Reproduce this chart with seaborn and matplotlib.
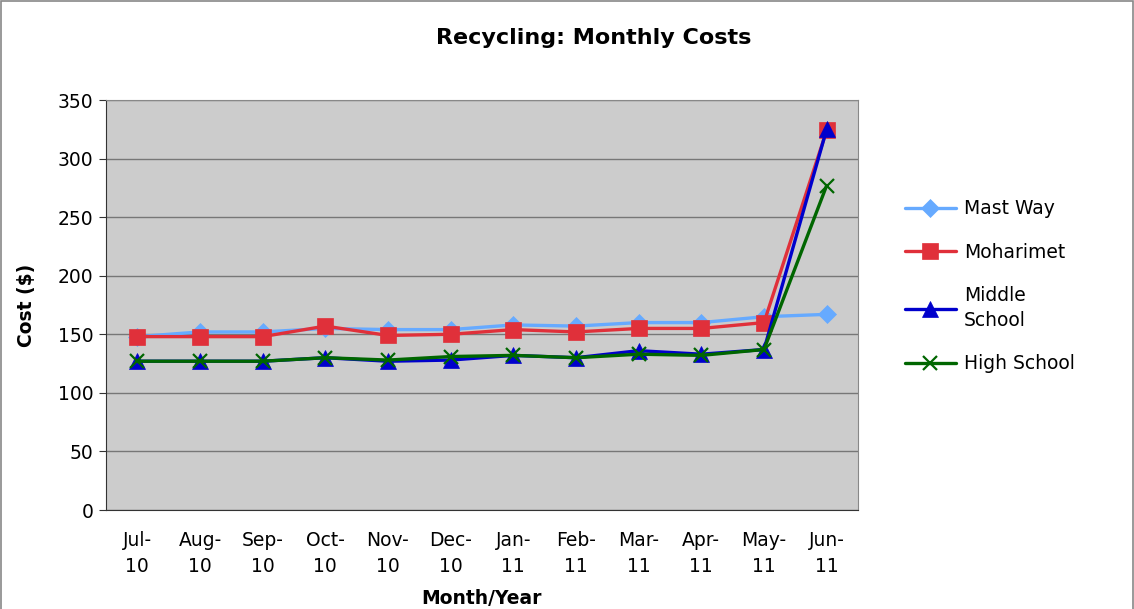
import numpy as np
import pandas as pd
import matplotlib
matplotlib.use('Agg')
import matplotlib.pyplot as plt
import seaborn as sns
from matplotlib.patches import Rectangle

# Monatswerte
months = ['Jul-\n10', 'Aug-\n10', 'Sep-\n10', 'Oct-\n10', 'Nov-\n10', 'Dec-\n10',
          'Jan-\n11', 'Feb-\n11', 'Mar-\n11', 'Apr-\n11', 'May-\n11', 'Jun-\n11']
mast_way = [148, 152, 152, 155, 154, 154, 158, 157, 160, 160, 165, 167]
moharimet = [148, 148, 148, 157, 149, 150, 154, 152, 155, 155, 160, 324]
middle_school = [127, 127, 127, 130, 127, 128, 132, 130, 136, 133, 137, 325]
high_school = [127, 127, 127, 130, 128, 131, 132, 130, 133, 132, 137, 277]

series = [
    ('Mast Way', mast_way, '#66AAFF', 'D', 9),
    ('Moharimet', moharimet, '#E0303A', 's', 11),
    ('Middle\nSchool', middle_school, '#0000CC', '^', 11),
    ('High School', high_school, '#006600', 'x', 10),
]

sns.set_style('white')
plt.rcParams['font.family'] = ['DejaVu Sans']
plt.rcParams['text.color'] = 'black'
plt.rcParams['axes.labelcolor'] = 'black'
plt.rcParams['xtick.color'] = 'black'
plt.rcParams['ytick.color'] = 'black'

fs = 13.5

fig = plt.figure(figsize=(11.34, 6.09), dpi=100)
ax = fig.add_axes([106 / 1134, 1 - 510 / 609, (858 - 106) / 1134, 410 / 609])
ax.set_facecolor('#CCCCCC')

x = np.arange(len(months))
for name, vals, col, mk, ms in series:
    df = pd.DataFrame({'idx': x, 'cost': vals})
    sns.lineplot(data=df, x='idx', y='cost', ax=ax, color=col, linewidth=2.4,
                 marker=mk, markersize=ms, markeredgecolor=col,
                 markeredgewidth=1.6 if mk == 'x' else 0.5, label=name)

ax.set_xlim(-0.5, len(months) - 0.5)
ax.set_ylim(0, 350)
ax.set_yticks(range(0, 351, 50))
ax.yaxis.grid(True, color='#777777', linewidth=1)
ax.set_axisbelow(True)

ax.set_xticks(x)
ax.set_xticklabels(months, fontsize=fs, linespacing=1.5)
ax.set_xticks(np.arange(-0.5, len(months), 1), minor=True)
ax.tick_params(axis='x', which='major', length=0, pad=15)
ax.tick_params(axis='x', which='minor', length=5, direction='out', color='#333333')
ax.tick_params(axis='y', length=5, direction='out', color='#333333', labelsize=fs, pad=4)
ax.tick_params(bottom=True, left=True)
for s in ['top', 'right']:
    ax.spines[s].set_color('#888888')
for s in ['left', 'bottom']:
    ax.spines[s].set_color('#333333')

ax.set_xlabel('Month/Year', fontsize=fs, fontweight='bold', labelpad=9)
ax.set_ylabel('Cost ($)', fontsize=fs, fontweight='bold', labelpad=16)

ax.get_legend().remove()
handles, labels = ax.get_legend_handles_labels()
leg = fig.legend(handles, labels, loc='center left', bbox_to_anchor=(905 / 1134, 0.53),
                 frameon=False, fontsize=fs, labelspacing=1.3, handlelength=2.7,
                 handletextpad=0.45, borderpad=0, borderaxespad=0)
for t in leg.get_texts():
    t.set_linespacing(1.4)

fig.text(594 / 1134, 1 - 38 / 609, 'Recycling: Monthly Costs', ha='center', va='center',
         fontsize=16, fontweight='bold')

fig.patches.append(Rectangle((0.001, -0.01), 0.998, 1.008, transform=fig.transFigure,
                             fill=False, edgecolor='#888888', linewidth=1.2))

fig.savefig('out.png', dpi=100)
